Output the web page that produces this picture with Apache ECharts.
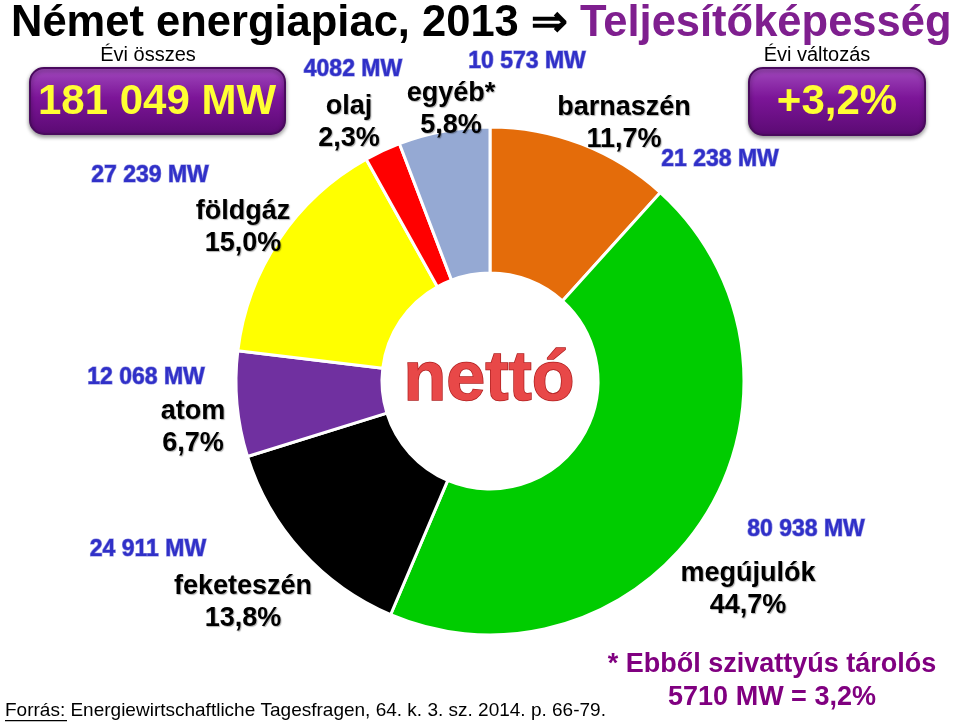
<!DOCTYPE html>
<html>
<head>
<meta charset="utf-8">
<script src="https://cdn.jsdelivr.net/npm/echarts@6/dist/echarts.min.js"></script>
<style>
  html, body { margin: 0; padding: 0; background: #fff; }
  #chart { width: 960px; height: 723px; }
</style>
</head>
<body>
<div id="chart"></div>
<script>
// adatok (nettó teljesítőképesség, 2013)
var names = ['barnaszén', 'megújulók', 'feketeszén', 'atom', 'földgáz', 'olaj', 'egyéb*'];
var percents = [11.7, 44.7, 13.8, 6.7, 15.0, 2.3, 5.8];
var mwLabels = ['21 238 MW', '80 938 MW', '24 911 MW', '12 068 MW', '27 239 MW', '4082 MW', '10 573 MW'];
var colors = ['#E46C0A', '#00CC00', '#000000', '#7030A0', '#FFFF00', '#FF0000', '#95A9D3'];
var totalLabel = '181 049 MW';
var changeLabel = '+3,2%';

// címkék helye (név+százalék, illetve MW)
var namePos = [[624, 124], [748, 590], [243, 603], [193, 428], [243, 228], [349, 123], [451, 110]];
var mwPos = [[720, 160], [806, 530], [148, 550], [146, 378], [150, 176], [353, 70], [527, 62]];

function fmt(v) {
  return v.toFixed(1).replace('.', ',') + '%';
}

var chart = echarts.init(document.getElementById('chart'));

var pieData = names.map(function (n, i) {
  return { name: n, value: percents[i], itemStyle: { color: colors[i] } };
});

var boxFill = function () {
  return new echarts.graphic.LinearGradient(0, 0, 0, 1, [
    { offset: 0, color: '#A24BBE' }, { offset: 0.45, color: '#7C1598' }, { offset: 1, color: '#5A0A72' }
  ]);
};

var graphics = [];
// MW címkék
mwLabels.forEach(function (t, i) {
  graphics.push({
    type: 'text', x: mwPos[i][0], y: mwPos[i][1],
    style: {
      text: t, fill: '#3030C8', font: 'bold 23px "Liberation Sans", Arial',
      align: 'center', verticalAlign: 'middle',
      stroke: '#9090E0', lineWidth: 1.2,
      shadowColor: 'rgba(0,0,0,0.35)', shadowOffsetX: 1, shadowOffsetY: 1, shadowBlur: 1
    }
  });
});

// bal felső doboz
graphics.push(
  { type: 'text', x: 148, y: 55, style: { text: 'Évi összes', fill: '#000', font: '20px "Liberation Sans", Arial', align: 'center', verticalAlign: 'middle' } },
  {
    type: 'rect', shape: { x: 30, y: 68, width: 255, height: 66, r: 14 },
    style: {
      fill: boxFill(), stroke: '#4A0A5E', lineWidth: 2,
      shadowColor: 'rgba(0,0,0,0.4)', shadowBlur: 4, shadowOffsetY: 2
    }
  },
  {
    type: 'text', x: 157, y: 102,
    style: {
      text: totalLabel, fill: '#FFFF33', font: 'bold 42px "Liberation Sans", Arial',
      align: 'center', verticalAlign: 'middle',
      shadowColor: 'rgba(0,0,0,0.6)', shadowOffsetX: 2, shadowOffsetY: 2, shadowBlur: 1
    }
  },
  // jobb felső doboz
  { type: 'text', x: 817, y: 55, style: { text: 'Évi változás', fill: '#000', font: '20px "Liberation Sans", Arial', align: 'center', verticalAlign: 'middle' } },
  {
    type: 'rect', shape: { x: 749, y: 68, width: 176, height: 67, r: 14 },
    style: {
      fill: boxFill(), stroke: '#4A0A5E', lineWidth: 2,
      shadowColor: 'rgba(0,0,0,0.4)', shadowBlur: 4, shadowOffsetY: 2
    }
  },
  {
    type: 'text', x: 837, y: 102,
    style: {
      text: changeLabel, fill: '#FFFF33', font: 'bold 42px "Liberation Sans", Arial',
      align: 'center', verticalAlign: 'middle',
      shadowColor: 'rgba(0,0,0,0.6)', shadowOffsetX: 2, shadowOffsetY: 2, shadowBlur: 1
    }
  },
  // nettó
  {
    type: 'text', x: 489, y: 381,
    style: {
      text: 'nettó', fill: '#E84848', font: 'bold 70px "Liberation Sans", Arial',
      align: 'center', verticalAlign: 'middle',
      stroke: '#B02020', lineWidth: 1.5,
      shadowColor: 'rgba(0,0,0,0.3)', shadowOffsetX: 1, shadowOffsetY: 2, shadowBlur: 2
    }
  },
  // lábjegyzet
  {
    type: 'text', x: 5, y: 711,
    style: {
      text: 'Forrás: Energiewirtschaftliche Tagesfragen, 64. k. 3. sz. 2014. p. 66-79.',
      fill: '#000', font: '19px "Liberation Sans Narrow", "Liberation Sans", Arial',
      verticalAlign: 'middle'
    }
  },
  { type: 'rect', shape: { x: 5, y: 720, width: 62, height: 1.2 }, style: { fill: '#000' } },
  {
    type: 'text', x: 772, y: 665,
    style: {
      text: '* Ebből szivattyús tárolós', fill: '#800080',
      font: 'bold 27px "Liberation Sans Narrow", "Liberation Sans", Arial',
      align: 'center', verticalAlign: 'middle'
    }
  },
  {
    type: 'text', x: 772, y: 698,
    style: {
      text: '5710 MW = 3,2%', fill: '#800080',
      font: 'bold 27px "Liberation Sans Narrow", "Liberation Sans", Arial',
      align: 'center', verticalAlign: 'middle'
    }
  }
);

var option = {
  backgroundColor: '#fff',
  animation: false,
  title: {
    text: '{a|Német energiapiac, 2013 ⇒ }{b|Teljesítőképesség}',
    left: 6, top: -3,
    textStyle: {
      rich: {
        a: { fontSize: 43.5, fontWeight: 'bold', color: '#000', fontFamily: '"Liberation Sans", Arial' },
        b: { fontSize: 43.5, fontWeight: 'bold', color: '#7F1F8F', fontFamily: '"Liberation Sans", Arial' }
      }
    }
  },
  series: [{
    type: 'pie',
    center: [490, 381],
    radius: [108, 254],
    startAngle: 90,
    clockwise: true,
    data: pieData,
    itemStyle: { borderColor: '#fff', borderWidth: 3 },
    label: {
      show: true,
      position: 'outside',
      formatter: function (p) { return p.name + '\n' + fmt(p.value); },
      color: '#000',
      fontSize: 27,
      fontWeight: 'bold',
      fontFamily: '"Liberation Sans", Arial',
      lineHeight: 32,
      align: 'center',
      textShadowColor: 'rgba(0,0,0,0.3)',
      textShadowOffsetX: 1,
      textShadowOffsetY: 1,
      textShadowBlur: 1
    },
    labelLine: { show: false },
    labelLayout: function (params) {
      var p = namePos[params.dataIndex];
      return { x: p[0], y: p[1], align: 'center', verticalAlign: 'middle' };
    },
    emphasis: { disabled: true }
  }],
  graphic: graphics
};

chart.setOption(option);
</script>
</body>
</html>
